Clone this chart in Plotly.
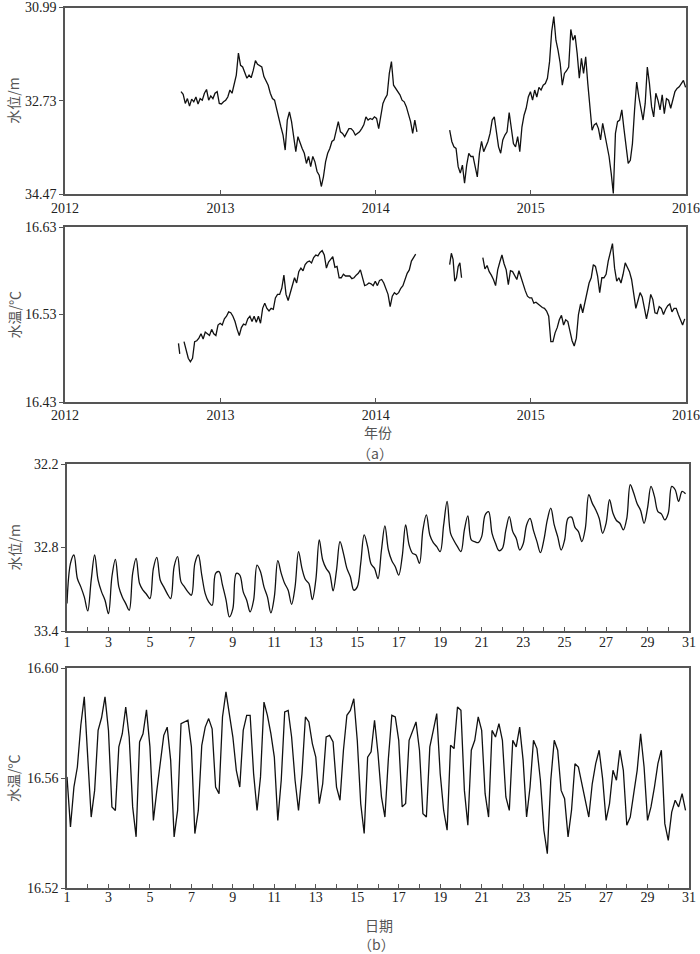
import pandas as pd
import numpy as np
import plotly.graph_objects as go

# ---- (a) long record, sampled every 5 days (water level in m, depth-like axis) ----
wl_a_start = "2012-09-30"
wl_a = [32.56, 32.61, 32.78, 32.69, 32.83, 32.70, 32.75, 32.66, 32.79, 32.69,
        32.72, 32.59, 32.52, 32.72, 32.64, 32.69, 32.59, 32.56, 32.78, 32.79,
        32.75, 32.72, 32.66, 32.53, 32.59, 32.44, 32.25, 31.84, 32.07, 32.10,
        32.19, 32.31, 32.25, 32.30, 32.16, 31.98, 32.05, 32.07, 32.10, 32.28,
        32.35, 32.44, 32.59, 32.69, 32.72, 32.90, 33.06, 33.22, 33.37, 33.65,
        33.09, 32.94, 33.12, 33.46, 33.68, 33.40, 33.53, 33.62, 33.71, 33.90,
        33.77, 33.96, 33.77, 33.87, 34.05, 34.12, 34.33, 34.15, 33.87, 33.71,
        33.62, 33.49, 33.46, 33.31, 33.12, 33.31, 33.34, 33.40, 33.31, 33.25,
        33.25, 33.29, 33.37, 33.33, 33.31, 33.25, 33.18, 33.03, 33.09, 33.06,
        33.08, 33.03, 33.06, 33.25, 33.00, 32.78, 32.69, 32.62, 32.22, 32.00,
        32.44, 32.50, 32.56, 32.62, 32.72, 32.75, 32.84, 32.97, 33.12, 33.34,
        33.09, 33.31]
wl_b_start = "2014-06-24"
wl_b = [33.28, 33.49, 33.59, 33.62, 33.96, 34.08, 33.93, 34.27, 33.93, 33.71,
        33.77, 33.77, 33.96, 34.15, 33.71, 33.49, 33.68, 33.59, 33.49, 33.34,
        33.09, 33.03, 33.34, 33.59, 33.71, 33.46, 33.37, 33.31, 32.95, 33.28,
        33.53, 33.59, 33.40, 33.68, 33.22, 33.00, 32.87, 32.66, 32.56, 32.72,
        32.53, 32.66, 32.48, 32.53, 32.44, 32.41, 32.31, 32.00, 31.44, 31.16,
        31.60, 31.79, 32.03, 32.44, 32.22, 32.17, 32.10, 31.40, 31.60, 31.51,
        31.85, 32.31, 31.94, 32.22, 31.91, 32.41, 32.84, 33.28, 33.18, 33.15,
        33.25, 33.46, 33.15, 33.37, 33.59, 33.77, 34.08, 34.46, 33.34, 33.12,
        33.09, 32.90, 33.25, 33.56, 33.90, 33.84, 33.53, 32.90, 32.38, 32.66,
        32.90, 33.09, 32.78, 32.10, 32.41, 32.84, 33.03, 32.59, 32.72, 32.90,
        32.62, 32.97, 32.69, 32.72, 32.87, 32.72, 32.56, 32.50, 32.47, 32.41,
        32.35, 32.48]

# water temperature (deg C)
wt_1_start = "2012-09-24"
wt_1 = [16.497, 16.485]
wt_2_start = "2012-10-07"
wt_2 = [16.499, 16.490, 16.480, 16.476, 16.480, 16.499, 16.500, 16.503, 16.508, 16.502,
        16.510, 16.508, 16.506, 16.513, 16.508, 16.506, 16.518, 16.520, 16.518, 16.525,
        16.528, 16.533, 16.532, 16.528, 16.522, 16.513, 16.506, 16.515, 16.519, 16.518,
        16.525, 16.528, 16.522, 16.528, 16.521, 16.528, 16.520, 16.537, 16.543, 16.537,
        16.534, 16.537, 16.536, 16.549, 16.553, 16.553, 16.560, 16.575, 16.553, 16.546,
        16.555, 16.566, 16.572, 16.566, 16.579, 16.583, 16.580, 16.587, 16.590, 16.591,
        16.589, 16.595, 16.598, 16.597, 16.601, 16.603, 16.598, 16.583, 16.590, 16.593,
        16.596, 16.584, 16.585, 16.572, 16.572, 16.576, 16.574, 16.574, 16.574, 16.571,
        16.572, 16.575, 16.577, 16.581, 16.572, 16.563, 16.564, 16.566, 16.565, 16.563,
        16.568, 16.563, 16.569, 16.570, 16.566, 16.560, 16.553, 16.539, 16.551, 16.555,
        16.553, 16.555, 16.560, 16.563, 16.570, 16.577, 16.581, 16.591, 16.595, 16.599]
wt_3_start = "2014-06-24"
wt_3 = [16.587, 16.600, 16.593, 16.568, 16.572, 16.585, 16.589, 16.572]
wt_4_start = "2014-09-10"
wt_4 = [16.595, 16.582, 16.586, 16.579, 16.575, 16.570, 16.563, 16.581, 16.590, 16.598,
        16.588, 16.581, 16.564, 16.580, 16.579, 16.574, 16.570, 16.580, 16.572, 16.565,
        16.557, 16.551, 16.549, 16.549, 16.543, 16.544, 16.542, 16.539, 16.538, 16.537,
        16.534, 16.528, 16.499, 16.499, 16.509, 16.515, 16.524, 16.529, 16.518, 16.524,
        16.522, 16.511, 16.500, 16.494, 16.503, 16.530, 16.542, 16.532, 16.543, 16.557,
        16.566, 16.572, 16.587, 16.585, 16.574, 16.555, 16.572, 16.572, 16.576, 16.591,
        16.600, 16.611, 16.583, 16.568, 16.572, 16.566, 16.576, 16.589, 16.584, 16.579,
        16.570, 16.551, 16.537, 16.546, 16.555, 16.550, 16.537, 16.525, 16.537, 16.553,
        16.547, 16.532, 16.531, 16.539, 16.537, 16.530, 16.536, 16.540, 16.542, 16.533,
        16.537, 16.537, 16.530, 16.525, 16.518, 16.525]

# ---- (b) one month, 4-hourly samples, day 1 .. 31 ----
lvl_month = [
    33.203, 32.914, 32.854, 33.023, 33.083, 33.155,
    33.256, 33.035, 32.854, 33.035, 33.119, 33.179,
    33.275, 33.010, 32.885, 33.083, 33.155, 33.203,
    33.251, 32.986, 32.878, 33.059, 33.107, 33.136,
    33.167, 32.950, 32.871, 33.035, 33.083, 33.131,
    33.167, 32.938, 32.866, 33.047, 33.083, 33.119,
    33.143, 32.914, 32.854, 32.998, 33.131, 33.191,
    33.215, 32.986, 32.974, 33.071, 33.174, 33.299,
    33.239, 32.986, 32.998, 33.119, 33.179, 33.263,
    33.179, 32.926, 32.974, 33.083, 33.155, 33.270,
    33.155, 32.895, 32.986, 33.059, 33.107, 33.208,
    33.083, 32.830, 32.950, 33.030, 33.059, 33.174,
    33.035, 32.746, 32.890, 32.950, 32.986, 33.111,
    32.962, 32.758, 32.842, 32.950, 33.010, 33.107,
    33.083, 32.914, 32.710, 32.794, 32.919, 32.950,
    33.023, 32.818, 32.645, 32.818, 32.895, 32.938,
    32.998, 32.866, 32.638, 32.782, 32.842, 32.854,
    32.914, 32.674, 32.566, 32.710, 32.765, 32.794,
    32.830, 32.638, 32.469, 32.698, 32.751, 32.794,
    32.830, 32.674, 32.573, 32.746, 32.758, 32.765,
    32.722, 32.566, 32.542, 32.698, 32.770, 32.823,
    32.806, 32.674, 32.578, 32.686, 32.734, 32.818,
    32.775, 32.638, 32.590, 32.679, 32.758, 32.837,
    32.746, 32.602, 32.517, 32.638, 32.722, 32.818,
    32.746, 32.590, 32.582, 32.655, 32.686, 32.758,
    32.662, 32.421, 32.481, 32.529, 32.590, 32.698,
    32.626, 32.457, 32.554, 32.606, 32.626, 32.674,
    32.590, 32.349, 32.409, 32.486, 32.534, 32.626,
    32.517, 32.361, 32.433, 32.542, 32.558, 32.602,
    32.554, 32.361, 32.385, 32.469, 32.397, 32.414]

tmp_month = [
    16.5604, 16.5422, 16.5567, 16.5640, 16.5792, 16.5895,
    16.5676, 16.5458, 16.5555, 16.5773, 16.5819, 16.5895,
    16.5773, 16.5495, 16.5482, 16.5713, 16.5761, 16.5858,
    16.5749, 16.5495, 16.5386, 16.5731, 16.5761, 16.5848,
    16.5713, 16.5446, 16.5555, 16.5652, 16.5755, 16.5785,
    16.5664, 16.5386, 16.5482, 16.5798, 16.5804, 16.5810,
    16.5713, 16.5398, 16.5482, 16.5719, 16.5785, 16.5816,
    16.5779, 16.5567, 16.5543, 16.5822, 16.5913, 16.5822,
    16.5749, 16.5628, 16.5567, 16.5773, 16.5828, 16.5828,
    16.5616, 16.5482, 16.5604, 16.5876, 16.5828, 16.5761,
    16.5676, 16.5446, 16.5592, 16.5840, 16.5846, 16.5749,
    16.5592, 16.5482, 16.5616, 16.5822, 16.5804, 16.5725,
    16.5676, 16.5507, 16.5579, 16.5749, 16.5755, 16.5731,
    16.5567, 16.5519, 16.5701, 16.5828, 16.5846, 16.5888,
    16.5737, 16.5507, 16.5398, 16.5676, 16.5695, 16.5810,
    16.5689, 16.5531, 16.5458, 16.5670, 16.5828, 16.5822,
    16.5737, 16.5495, 16.5507, 16.5737, 16.5773, 16.5804,
    16.5701, 16.5470, 16.5458, 16.5713, 16.5773, 16.5834,
    16.5616, 16.5482, 16.5410, 16.5719, 16.5707, 16.5858,
    16.5846, 16.5555, 16.5428, 16.5701, 16.5737, 16.5822,
    16.5773, 16.5543, 16.5458, 16.5773, 16.5749, 16.5798,
    16.5737, 16.5531, 16.5482, 16.5737, 16.5713, 16.5785,
    16.5664, 16.5458, 16.5567, 16.5737, 16.5707, 16.5592,
    16.5410, 16.5325, 16.5592, 16.5737, 16.5701, 16.5555,
    16.5525, 16.5386, 16.5482, 16.5652, 16.5640, 16.5579,
    16.5519, 16.5458, 16.5579, 16.5652, 16.5701, 16.5598,
    16.5446, 16.5507, 16.5628, 16.5592, 16.5701, 16.5628,
    16.5428, 16.5458, 16.5543, 16.5628, 16.5761, 16.5640,
    16.5446, 16.5495, 16.5567, 16.5652, 16.5701, 16.5434,
    16.5373, 16.5476, 16.5519, 16.5495, 16.5543, 16.5482]

year_ticks = ["2012-01-01", "2013-01-01", "2014-01-01", "2015-01-01", "2016-01-01"]
day_ticks = list(range(1, 32, 2))

W, H = 700, 954
LINE = dict(color="#111111", width=1.3)
NUM_FONT = dict(family="Liberation Serif, DejaVu Serif, serif", size=14, color="#222222")
CJK_FONT = dict(family="Noto Sans CJK SC", size=14, color="#555555")


def fx(px):
    return px / W


def fy(py):
    return 1 - py / H


def dates(start, vals, step):
    return pd.date_range(start, periods=len(vals), freq=step)


fig = go.Figure()

# panel 1: water level, long record
for start, vals in [(wl_a_start, wl_a), (wl_b_start, wl_b)]:
    fig.add_trace(go.Scatter(x=dates(start, vals, "5D"), y=vals, mode="lines",
                             line=LINE, xaxis="x", yaxis="y", showlegend=False))

# panel 2: water temperature, long record
for start, vals, step in [(wt_1_start, wt_1, "3D"), (wt_2_start, wt_2, "5D"),
                          (wt_3_start, wt_3, "4D"), (wt_4_start, wt_4, "5D")]:
    fig.add_trace(go.Scatter(x=dates(start, vals, step), y=vals, mode="lines",
                             line=LINE, xaxis="x2", yaxis="y2", showlegend=False))

# panels 3 and 4: one month
days = 1 + np.arange(len(lvl_month)) / 6
fig.add_trace(go.Scatter(x=days, y=lvl_month, mode="lines", line=dict(LINE, shape="spline"),
                         xaxis="x3", yaxis="y3", showlegend=False))
days_t = 1 + np.arange(len(tmp_month)) / 6
fig.add_trace(go.Scatter(x=days_t, y=tmp_month, mode="lines", line=LINE,
                         xaxis="x4", yaxis="y4", showlegend=False))

axis_common = dict(showline=True, linecolor="#555555", linewidth=1.5, mirror=True,
                   showgrid=False, zeroline=False, tickfont=NUM_FONT, automargin=False,
                   tickcolor="#555555", ticklen=4, tickwidth=1)

# plot-area boxes in pixels: (left, right, top, bottom)
boxes = [(65, 686, 7.5, 194), (65, 686, 227, 402), (67, 689, 464, 631), (67, 689, 668, 888)]
label_shift = [0, -1, -3, -5]

layout = dict(width=W, height=H, margin=dict(l=0, r=0, t=0, b=0, autoexpand=False),
              paper_bgcolor="white", plot_bgcolor="white", showlegend=False)

y_specs = [
    dict(range=[34.47, 30.99], tickvals=[30.99, 32.73, 34.47], tickformat=".2f"),
    dict(range=[16.43, 16.63], tickvals=[16.43, 16.53, 16.63], tickformat=".2f"),
    dict(range=[33.4, 32.2], tickvals=[32.2, 32.8, 33.4], tickformat=".1f"),
    dict(range=[16.52, 16.60], tickvals=[16.52, 16.56, 16.60], tickformat=".2f"),
]

for i, (l, r, t, b) in enumerate(boxes):
    n = "" if i == 0 else str(i + 1)
    if i < 2:
        xa = dict(axis_common, type="date", range=["2012-01-01", "2016-01-01"],
                  tickvals=year_ticks, tickformat="%Y", ticks="inside")
    else:
        xa = dict(axis_common, range=[1, 31], tickvals=day_ticks, ticks="inside",
                  minor=dict(dtick=1, tick0=1, ticks="inside", ticklen=4,
                             tickcolor="#555555"))
    xa["ticklabelstandoff"] = label_shift[i]
    xa["domain"] = [fx(l), fx(r)]
    xa["anchor"] = "y" + n
    ya = dict(axis_common, ticks="outside", **y_specs[i])
    ya["domain"] = [fy(b), fy(t)]
    ya["anchor"] = "x" + n
    layout["xaxis" + n] = xa
    layout["yaxis" + n] = ya

fig.update_layout(**layout)

# axis titles and panel labels
y_titles = ["水位/m", "水温/℃", "水位/m", "水温/℃"]
for (l, r, t, b), txt in zip(boxes, y_titles):
    fig.add_annotation(x=fx(13), y=fy((t + b) / 2), xref="paper", yref="paper",
                       xanchor="center", yanchor="middle",
                       text=txt, textangle=-90, showarrow=False, font=CJK_FONT)

labels = [("年份", 378, 432), ("（a）", 375, 453), ("日期", 379, 925), ("（b）", 376, 944)]
for txt, px, py in labels:
    fig.add_annotation(x=fx(px), y=fy(py), xref="paper", yref="paper",
                       xanchor="center", yanchor="middle",
                       text=txt, showarrow=False, font=CJK_FONT)

fig.write_html("out.html", config={"displayModeBar": False},
               post_script="document.body.style.margin = '0px';")
